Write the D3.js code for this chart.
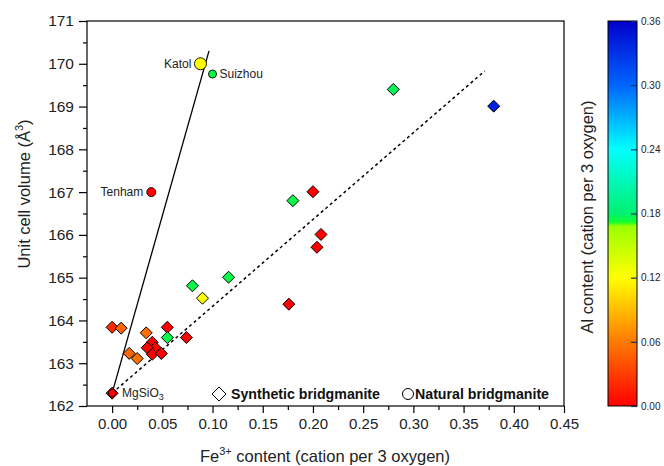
<!DOCTYPE html>
<html><head><meta charset="utf-8">
<script src="https://cdn.jsdelivr.net/npm/d3@7"></script>
<style>body{margin:0;background:#fff}svg{display:block}text{font-family:Arial,"Liberation Sans",sans-serif}</style>
</head><body>
<svg id="c" width="664" height="466"></svg>
<script>
// ---- data ----
const synthFe = [0.000,0.000,0.009,0.034,0.055,0.055,0.074,0.040,0.043,0.035,0.040,0.049,0.017,0.025,0.080,0.090,0.116,0.180,0.200,0.208,0.204,0.176,0.280,0.380];
const synthV  = [162.30,163.84,163.82,163.71,163.84,163.60,163.60,163.49,163.36,163.36,163.21,163.23,163.23,163.11,164.81,164.52,165.01,166.80,167.01,166.01,165.71,164.38,169.40,169.01];
const synthAl = [0.00,0.02,0.05,0.055,0.00,0.175,0.00,0.00,0.00,0.00,0.00,0.00,0.05,0.055,0.175,0.12,0.175,0.175,0.00,0.00,0.00,0.00,0.177,0.34];

const natNames = ["Katol","Suizhou","Tenham","MgSiO3"];
const natFe = [0.088,0.100,0.039,0.000];
const natV  = [170.00,169.76,167.00,162.30];
const natAl = [0.12,0.175,0.00,0.00];
const natSize = [6,4,4.5,3.8];

const solidLine  = [[0.000,162.30],[0.0965,170.30]];
const dashedLine = [[0.000,162.30],[0.371,169.83]];

const xTicks = [0,0.05,0.10,0.15,0.20,0.25,0.30,0.35,0.40,0.45];
const yTicks = [162,163,164,165,166,167,168,169,170,171];
const cbTicks = [0,0.06,0.12,0.18,0.24,0.30,0.36];
const cbStops = [0,0.06,0.12,0.168,0.172,0.18,0.24,0.30,0.36];
const cbColors = ["#ff0000","#ff7a00","#ffff00","#9cff00","#10ff30","#00f070","#00ffff","#0064ff","#0000cc"];

// ---- layout ----
const svg = d3.select("#c");
const L=87,R=564,T=21,B=406;
const x = d3.scaleLinear().domain([-0.025,0.45]).range([L,R]);
const y = d3.scaleLinear().domain([162,171]).range([B,T]);
const col = d3.scaleLinear().domain(cbStops).range(cbColors).clamp(true);

// frame
svg.append("rect").attr("x",L).attr("y",T).attr("width",R-L).attr("height",B-T)
  .attr("fill","none").attr("stroke","#000").attr("stroke-width",1.2);

// x axis
const xAx = svg.append("g").attr("transform",`translate(0,${B})`)
  .call(d3.axisBottom(x).tickValues(xTicks).tickFormat(d3.format(".2f")).tickSize(7).tickPadding(5));
const xMin = svg.append("g").attr("transform",`translate(0,${B})`)
  .call(d3.axisBottom(x).tickValues(xTicks.slice(0,-1).map(d=>d+0.025)).tickFormat("").tickSize(4));
// y axis
const yAx = svg.append("g").attr("transform",`translate(${L},0)`)
  .call(d3.axisLeft(y).tickValues(yTicks).tickFormat(d3.format("d")).tickSize(8).tickPadding(5));
const yMin = svg.append("g").attr("transform",`translate(${L},0)`)
  .call(d3.axisLeft(y).tickValues(yTicks.slice(0,-1).map(d=>d+0.5)).tickFormat("").tickSize(4));
[xAx,xMin,yAx,yMin].forEach(g=>{g.select(".domain").remove();g.selectAll("line").attr("stroke","#000").attr("stroke-width",1.2);});
xAx.selectAll("text").attr("font-size",15).attr("fill","#222").attr("font-family","Arial, Liberation Sans, sans-serif");
yAx.selectAll("text").attr("font-size",15.5).attr("fill","#222").attr("font-family","Arial, Liberation Sans, sans-serif");

// titles
const xt = svg.append("text").attr("x",325).attr("y",462).attr("text-anchor","middle").attr("font-size",16.5).attr("fill","#222");
xt.append("tspan").text("Fe");
xt.append("tspan").attr("dy",-7).attr("font-size",11).text("3+");
xt.append("tspan").attr("dy",7).text(" content (cation per 3 oxygen)");

const yt = svg.append("text").attr("transform","translate(30,194) rotate(-90)").attr("text-anchor","middle").attr("font-size",16.5).attr("fill","#222");
yt.append("tspan").text("Unit cell volume (Å");
yt.append("tspan").attr("dy",-7).attr("font-size",11).text("3");
yt.append("tspan").attr("dy",7).text(")");

// lines
const line = d3.line().x(d=>x(d[0])).y(d=>y(d[1]));
svg.append("path").attr("d",line(solidLine)).attr("fill","none").attr("stroke","#000").attr("stroke-width",1.3);
svg.append("path").attr("d",line(dashedLine)).attr("fill","none").attr("stroke","#000").attr("stroke-width",1.5).attr("stroke-dasharray","3,3");

// synthetic diamonds
const ds = 6;
svg.append("g").selectAll("path").data(synthFe.map((f,i)=>({f,v:synthV[i],a:synthAl[i]})))
  .join("path")
  .attr("d",d=>`M${x(d.f)},${y(d.v)-ds}L${x(d.f)+ds},${y(d.v)}L${x(d.f)},${y(d.v)+ds}L${x(d.f)-ds},${y(d.v)}Z`)
  .attr("fill",d=>col(d.a)).attr("stroke","#000").attr("stroke-width",1);

// natural circles
svg.append("g").selectAll("circle").data(natFe.map((f,i)=>({f,v:natV[i],a:natAl[i],r:natSize[i]})))
  .join("circle").attr("cx",d=>x(d.f)).attr("cy",d=>y(d.v)).attr("r",d=>d.r)
  .attr("fill",d=>col(d.a)).attr("stroke","#000").attr("stroke-width",0.9);

// labels
const lab = (t,xx,yy,anchor)=>svg.append("text").attr("x",xx).attr("y",yy).attr("text-anchor",anchor).attr("font-size",12).attr("fill","#222").text(t);
lab(natNames[0],x(natFe[0])-9,y(natV[0])+4,"end");
lab(natNames[1],x(natFe[1])+7,y(natV[1])+4,"start");
lab(natNames[2],x(natFe[2])-8,y(natV[2])+4,"end");
const mg = svg.append("text").attr("x",x(natFe[3])+10).attr("y",y(natV[3])+4).attr("font-size",12).attr("fill","#222");
mg.append("tspan").text("MgSiO");
mg.append("tspan").attr("dy",3).attr("font-size",9).text("3");

// legend
const ly = 394;
svg.append("path").attr("d",`M219,${ly-7}L226,${ly}L219,${ly+7}L212,${ly}Z`).attr("fill","#fff").attr("stroke","#000").attr("stroke-width",1);
svg.append("text").attr("x",231).attr("y",ly+5).attr("font-size",14.2).attr("font-weight","bold").attr("fill","#111").text("Synthetic bridgmanite");
svg.append("circle").attr("cx",408).attr("cy",ly).attr("r",5.5).attr("fill","#fff").attr("stroke","#000").attr("stroke-width",1);
svg.append("text").attr("x",415).attr("y",ly+5).attr("font-size",14.2).attr("font-weight","bold").attr("fill","#111").text("Natural bridgmanite");

// colorbar
const cbX=608,cbW=29;
const cy = d3.scaleLinear().domain([0,0.36]).range([B,T]);
const grad = svg.append("defs").append("linearGradient").attr("id","g").attr("x1",0).attr("y1",1).attr("x2",0).attr("y2",0);
d3.range(0,0.3601,0.002).forEach(v=>grad.append("stop").attr("offset",v/0.36).attr("stop-color",col(v)));
svg.append("rect").attr("x",cbX).attr("y",T).attr("width",cbW).attr("height",B-T).attr("fill","url(#g)").attr("stroke","#000").attr("stroke-width",1);
const cbAx = svg.append("g").attr("transform",`translate(${cbX+cbW},0)`)
  .call(d3.axisRight(cy).tickValues(cbTicks).tickFormat(d3.format(".2f")).tickSizeInner(-6).tickSizeOuter(0).tickPadding(10));
cbAx.select(".domain").remove();
cbAx.selectAll("line").attr("stroke","#135").attr("stroke-width",1.2);
cbAx.selectAll("text").attr("font-size",10).attr("fill","#222").attr("x",4);
svg.append("text").attr("transform","translate(593,217) rotate(-90)").attr("text-anchor","middle").attr("font-size",16.5).attr("fill","#222").text("Al content (cation per 3 oxygen)");
</script>
</body></html>
